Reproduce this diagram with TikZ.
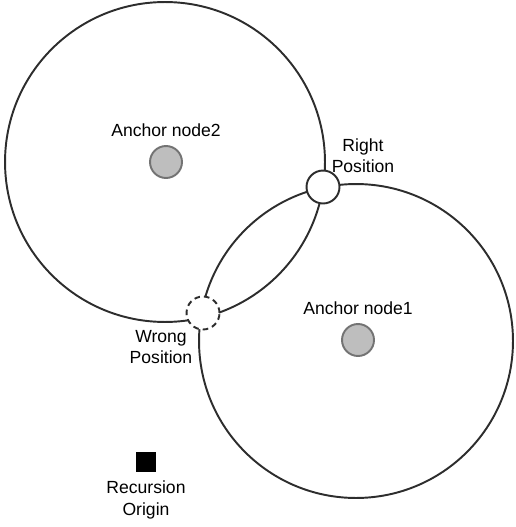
\documentclass[tikz,border=0pt]{standalone}
\usepackage{fontspec}
\setmainfont{Liberation Sans}
\usepackage{xcolor}
\usetikzlibrary{positioning}
\definecolor{ink}{RGB}{45,45,45}
\definecolor{dotfill}{RGB}{190,190,190}
\definecolor{dotline}{RGB}{115,115,115}

\begin{document}
\begin{tikzpicture}[
  x=0.02cm,y=-0.02cm,
  ring/.style={draw=ink,circle,line width=1.1pt,inner sep=0pt},
  spot/.style={draw=ink,fill=white,circle,line width=1.1pt,inner sep=0pt,minimum size=0.66cm},
  dot/.style={draw=dotline,fill=dotfill,circle,line width=1.1pt,inner sep=0pt,minimum size=0.64cm},
  txt/.style={align=center,inner sep=0pt,font=\fontsize{10}{12.2}\selectfont}
]
\useasboundingbox (0,0) rectangle (515,527);
% range circles around the two anchors
\node[ring,minimum size=6.4cm] (ring2) at (165,162) {};
\node[ring,minimum size=6.28cm] (ring1) at (356,341) {};
% candidate positions where the rings cross
\node[spot] (right) at (323,187) {};
\node[spot,dash pattern=on 3.2pt off 2.3pt] (wrong) at (203,313) {};
% anchors
\node[dot] (anchor2) at (166,162) {};
\node[dot] (anchor1) at (358,340) {};
\node[txt,above=4.5pt of anchor2] (lbl2) {Anchor node2};
\node[txt,above=4.5pt of anchor1] (lbl1) {Anchor node1};
\node[txt] (lblright) at (363,156) {Right\\Position};
\node[txt] (lblwrong) at (161,347) {Wrong\\Position};
% origin of the recursion
\node[fill=black,inner sep=0pt,minimum size=0.39cm] (origin) at (146,462) {};
\node[txt] (lblorigin) at (146,500) {Recursion\\Origin};
\end{tikzpicture}
\end{document}
